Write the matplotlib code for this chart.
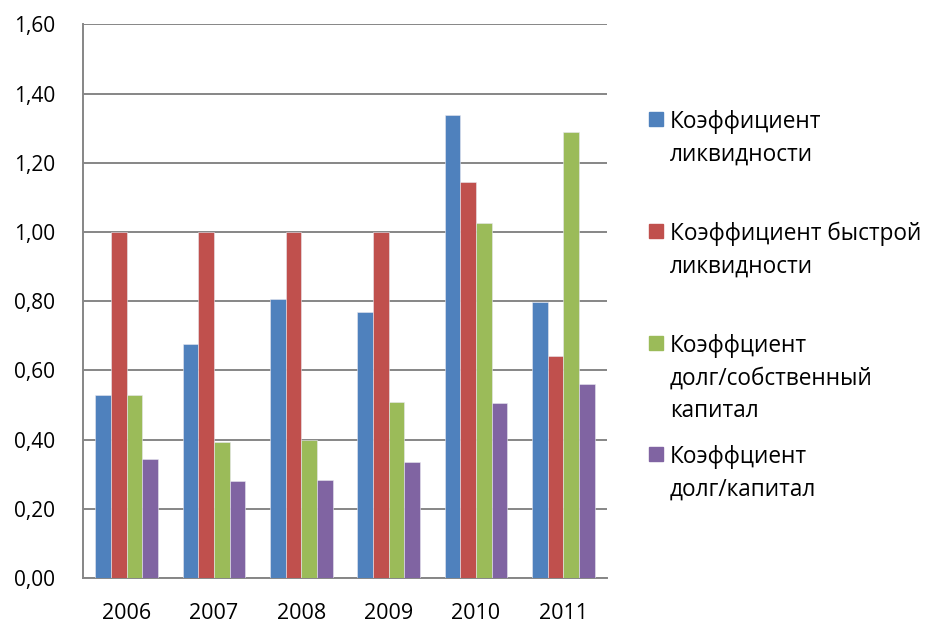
import numpy as np
import matplotlib
matplotlib.use('Agg')
import matplotlib.pyplot as plt
from matplotlib.patches import Rectangle
from matplotlib.ticker import FuncFormatter

plt.rcParams['font.family'] = ['Open Sans', 'DejaVu Sans']

years = ['2006', '2007', '2008', '2009', '2010', '2011']
liquidity = [0.529, 0.675, 0.806, 0.770, 1.338, 0.797]
quick_liquidity = [1.00, 1.00, 1.00, 1.00, 1.144, 0.641]
debt_equity = [0.530, 0.392, 0.399, 0.509, 1.025, 1.290]
debt_capital = [0.344, 0.280, 0.284, 0.335, 0.505, 0.562]

series = [liquidity, quick_liquidity, debt_equity, debt_capital]
labels = [
    ['Коэффициент', 'ликвидности'],
    ['Коэффициент быстрой', 'ликвидности'],
    ['Коэффциент', 'долг/собственный', 'капитал'],
    ['Коэффциент', 'долг/капитал'],
]
colors = ['#4F81BD', '#C0504D', '#9BBB59', '#8064A2']

W, H = 928, 623
fig = plt.figure(figsize=(W / 100, H / 100), dpi=100)
ax = fig.add_axes([83 / W, 1 - 578 / H, (607 - 83) / W, (578 - 24.4) / H])

x = np.arange(len(years))
bw = 0.18
for i, (vals, c) in enumerate(zip(series, colors)):
    ax.bar(x + (i - 1.5) * bw, vals, width=bw, color=c, edgecolor='#e8e8f0', linewidth=0.4, zorder=3)

ax.set_xlim(-0.5, len(years) - 0.5)
ax.set_ylim(0, 1.6)
ax.set_yticks(np.arange(0, 1.61, 0.2))
ax.yaxis.set_major_formatter(FuncFormatter(lambda v, p: ('%.2f' % v).replace('.', ',')))
ax.set_xticks(x)
ax.set_xticklabels(years)
ax.grid(axis='y', color='#868686', linewidth=1.4, zorder=0)
for s in ['top', 'right']:
    ax.spines[s].set_visible(False)
for s in ['left', 'bottom']:
    ax.spines[s].set_color('#868686')
    ax.spines[s].set_linewidth(1.4)
ax.tick_params(axis='y', length=0, pad=20, labelsize=15)
ax.tick_params(axis='x', length=0, pad=18, labelsize=15.5)

# legend drawn by hand: square next to first line of each entry
first_baselines = [128, 240, 352, 463]
line_step = 32.5
for lab, c, yb in zip(labels, colors, first_baselines):
    fig.patches.append(Rectangle((649 / W, 1 - (yb - 2) / H), 14 / W, 14 / H,
                                 transform=fig.transFigure, color=c))
    for k, line in enumerate(lab):
        fig.text(670 / W, 1 - (yb + k * line_step) / H, line, fontsize=16.3,
                 va='baseline', ha='left')

fig.savefig('out.png', dpi=100)
